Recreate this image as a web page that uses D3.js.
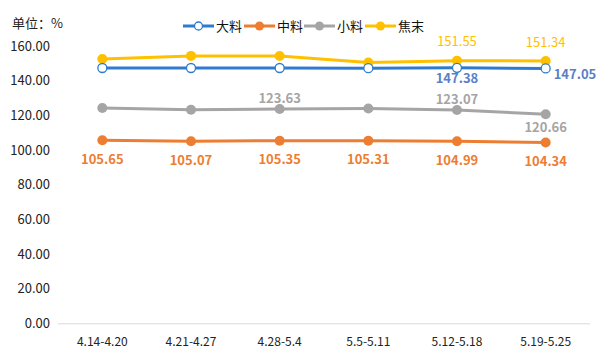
<!DOCTYPE html>
<html><head><meta charset="utf-8">
<script src="https://cdn.jsdelivr.net/npm/d3@7"></script>
<style>body{margin:0;background:#fff}svg{display:block}text{font-family:"Noto Sans CJK SC","Microsoft YaHei",sans-serif}</style>
</head><body>
<script>
const categories = ["4.14-4.20","4.21-4.27","4.28-5.4","5.5-5.11","5.12-5.18","5.19-5.25"];
const seriesNames = ["大料","中料","小料","焦末"];
const daliao = [147.3,147.3,147.3,147.2,147.38,147.05];
const zhongliao = [105.65,105.07,105.35,105.31,104.99,104.34];
const xiaoliao = [124.2,123.2,123.63,123.9,123.07,120.66];
const jiaomo = [152.5,154.3,154.2,150.5,151.55,151.34];
const yTicks = [0,20,40,60,80,100,120,140,160];
// labelled points: [index, side]
const daliaoLabels = [[4,"below"],[5,"right"]];
const zhongliaoLabels = [[0,"below"],[1,"below"],[2,"below"],[3,"below"],[4,"below"],[5,"below"]];
const xiaoliaoLabels = [[2,"above"],[4,"above"],[5,"below"]];
const jiaomoLabels = [[4,"above"],[5,"above"]];

const W=604,H=356;
const svg=d3.select("body").append("svg").attr("width",W).attr("height",H);
const x=d3.scaleBand().domain(categories).range([58,590]);
const y=d3.scaleLinear().domain([0,160]).range([323.3,46]);

svg.append("text").attr("x",12).attr("y",28).attr("font-size",13).attr("fill","#222").text("单位：%");

svg.append("line").attr("x1",58).attr("x2",590).attr("y1",y(0)+0.5).attr("y2",y(0)+0.5).attr("stroke","#d9d9d9");
svg.append("g").selectAll("text").data(yTicks).join("text")
 .attr("x",50).attr("y",d=>y(d)).attr("dy","0.35em").attr("text-anchor","end")
 .attr("font-size",13).attr("fill","#222").text(d=>d.toFixed(2));
svg.append("g").selectAll("text").data(categories).join("text")
 .attr("x",d=>x(d)+x.bandwidth()/2).attr("y",342).attr("dy","0.35em").attr("text-anchor","middle")
 .attr("font-size",12).attr("fill","#222").text(d=>d);

const series=[
 {name:"大料",vals:daliao,color:"#2E7BCF",hollow:true,labels:daliaoLabels,lc:"#5B7FC6",bold:true,off:{below:11,above:-11,right:6}},
 {name:"中料",vals:zhongliao,color:"#ED7D31",labels:zhongliaoLabels,lc:"#ED7D31",bold:true,off:{below:19}},
 {name:"小料",vals:xiaoliao,color:"#A5A5A5",labels:xiaoliaoLabels,lc:"#A5A5A5",bold:true,off:{below:13,above:-11}},
 {name:"焦末",vals:jiaomo,color:"#FFC000",labels:jiaomoLabels,lc:"#FFC000",bold:false,off:{above:-19}}
];
const cx=i=>x(categories[i])+x.bandwidth()/2;
const line=d3.line().x((d,i)=>cx(i)).y(d=>y(d));
[2,1,3,0].forEach(k=>{
 const s=series[k];
 const g=svg.append("g");
 g.append("path").attr("d",line(s.vals)).attr("fill","none").attr("stroke",s.color).attr("stroke-width",3).attr("stroke-linejoin","round");
 g.selectAll("circle").data(s.vals).join("circle").attr("cx",(d,i)=>cx(i)).attr("cy",d=>y(d)).attr("r",s.hollow?4.5:5)
  .attr("fill",s.hollow?"#fff":s.color).attr("stroke",s.hollow?s.color:"none").attr("stroke-width",1.3);
});
series.forEach(s=>{
 svg.append("g").selectAll("text").data(s.labels).join("text")
  .attr("x",d=>d[1]==="right"?cx(d[0])+8:cx(d[0]))
  .attr("y",d=>y(s.vals[d[0]])+s.off[d[1]])
  .attr("dy","0.35em").attr("text-anchor",d=>d[1]==="right"?"start":"middle")
  .attr("font-size",13).attr("font-weight",s.bold?"bold":"normal").attr("fill",s.lc)
  .text(d=>s.vals[d[0]].toFixed(2));
});

const lx=[183,244,304,365];
series.forEach((s,i)=>{
 const g=svg.append("g").attr("transform",`translate(${lx[i]},26)`);
 g.append("line").attr("x1",0).attr("x2",31).attr("stroke",s.color).attr("stroke-width",3);
 g.append("circle").attr("cx",15.5).attr("r",s.hollow?4:4.5).attr("fill",s.hollow?"#fff":s.color).attr("stroke",s.hollow?s.color:"none").attr("stroke-width",1.3);
 g.append("text").attr("x",33).attr("dy","0.35em").attr("font-size",13).attr("fill","#111").text(s.name);
});
</script>
</body></html>
